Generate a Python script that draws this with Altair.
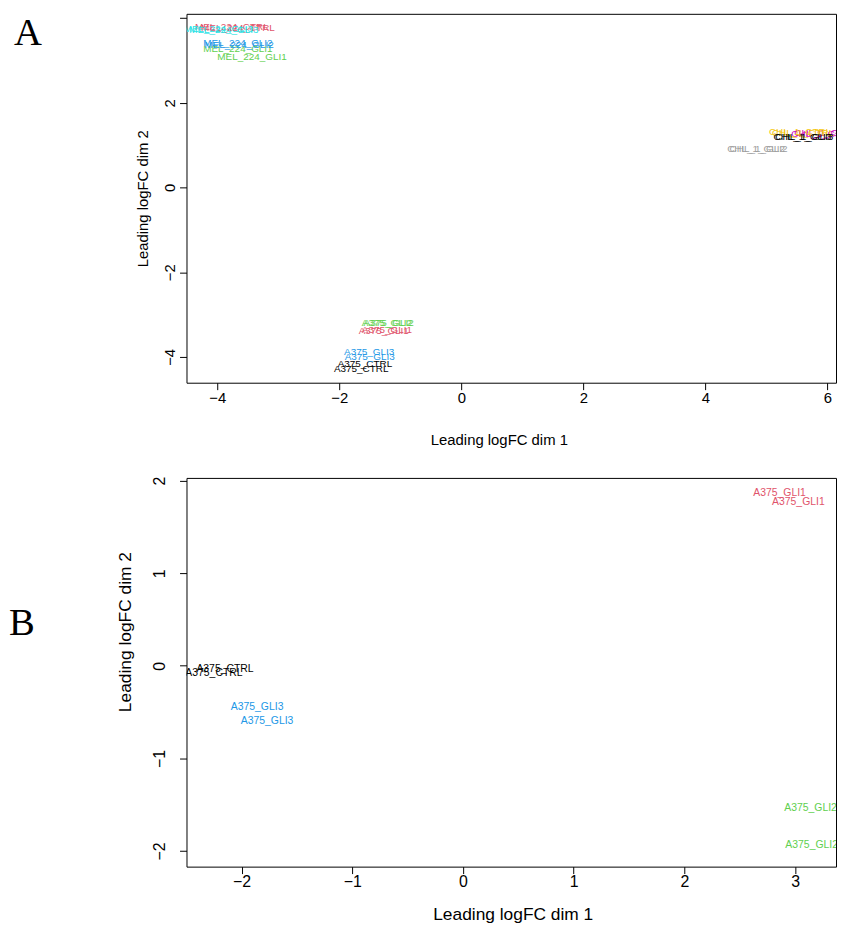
import altair as alt
import pandas as pd

# ---------------- Panel A data ----------------
a_labels = ["A375_CTRL", "A375_CTRL", "A375_GLI1", "A375_GLI1", "A375_GLI2", "A375_GLI2",
            "A375_GLI3", "A375_GLI3",
            "CHL_1_GLI1", "CHL_1_GLI1", "CHL_1_CTRL", "CHL_1_CTRL", "CHL_1_GLI2", "CHL_1_GLI2",
            "CHL_1_GLI3", "CHL_1_GLI3",
            "MEL_224_CTRL", "MEL_224_CTRL", "MEL_224_GLI1", "MEL_224_GLI1",
            "MEL_224_GLI2", "MEL_224_GLI2", "MEL_224_GLI3", "MEL_224_GLI3"]
a_x = [-1.58, -1.64, -1.27, -1.22, -1.19, -1.22, -1.51, -1.50,
       5.88, 5.93, 5.55, 5.60, 4.83, 4.87, 5.59, 5.62,
       -3.76, -3.66, -3.66, -3.43, -3.66, -3.64, -3.98, -3.89]
a_y = [-4.17, -4.29, -3.40, -3.36, -3.19, -3.21, -3.89, -4.00,
       1.27, 1.29, 1.30, 1.28, 0.90, 0.90, 1.19, 1.20,
       3.80, 3.76, 3.28, 3.09, 3.42, 3.36, 3.74, 3.72]
a_colors = ["#000000", "#000000", "#DF536B", "#DF536B", "#61D04F", "#61D04F", "#2297E6", "#2297E6",
            "#CD0BBC", "#CD0BBC", "#F5C710", "#F5C710", "#9E9E9E", "#9E9E9E", "#000000", "#000000",
            "#DF536B", "#DF536B", "#61D04F", "#61D04F", "#2297E6", "#2297E6", "#28E2E5", "#28E2E5"]

# ---------------- Panel B data ----------------
b_labels = ["A375_CTRL", "A375_CTRL", "A375_GLI1", "A375_GLI1", "A375_GLI2", "A375_GLI2",
            "A375_GLI3", "A375_GLI3"]
b_x = [-2.25, -2.15, 2.86, 3.03, 3.14, 3.15, -1.86, -1.77]
b_y = [-0.08, -0.04, 1.87, 1.77, -1.54, -1.94, -0.45, -0.60]
b_colors = ["#000000", "#000000", "#DF536B", "#DF536B", "#61D04F", "#61D04F", "#2297E6", "#2297E6"]

a_xticks = [-4, -2, 0, 2, 4, 6]
a_yticks = [-4, -2, 0, 2, 4]
b_xticks = [-2, -1, 0, 1, 2, 3]
b_yticks = [-2, -1, 0, 1, 2]

FONT = "Liberation Sans"


def panel(labels, xs, ys, cols, xdom, ydom, w, h, xt, yt, fsize, letter, lx, ly,
          xtitle_x, xtitle_y, ytitle_x, ytitle_y, xlabpad, ylabpad, labsize, titlesize):
    df = pd.DataFrame({"label": labels, "x": xs, "y": ys, "col": cols,
                       "order": list(range(len(labels)))})
    xaxis = alt.Axis(values=xt, domain=False, grid=False, tickSize=7, tickColor="black",
                     labelColor="black", labelFont=FONT, labelFontSize=labsize,
                     labelPadding=xlabpad, labelFlush=False, labelOverlap=False,
                     title="Leading logFC dim 1", titleFont=FONT, titleFontSize=titlesize,
                     titleFontWeight="normal", titleColor="black", titleX=xtitle_x,
                     titleY=xtitle_y, titleAlign="center", titleBaseline="middle")
    yaxis = alt.Axis(values=yt, domain=False, grid=False, tickSize=7, tickColor="black",
                     labelColor="black", labelFont=FONT, labelFontSize=labsize,
                     labelPadding=ylabpad, labelAngle=270, labelAlign="center",
                     labelBaseline="bottom", labelFlush=False, labelOverlap=False,
                     labelExpr="datum.value == 4 ? '' : datum.label",
                     title="Leading logFC dim 2", titleFont=FONT, titleFontSize=titlesize,
                     titleFontWeight="normal", titleColor="black", titleAngle=270,
                     titleX=ytitle_x, titleY=ytitle_y, titleAlign="center",
                     titleBaseline="middle")
    pts = alt.Chart(df).mark_text(font=FONT, fontSize=fsize, clip=True,
                                  align="center", baseline="middle").encode(
        x=alt.X("x:Q", scale=alt.Scale(domain=xdom, nice=False, zero=False), axis=xaxis),
        y=alt.Y("y:Q", scale=alt.Scale(domain=ydom, nice=False, zero=False), axis=yaxis),
        text="label:N",
        color=alt.Color("col:N", scale=None),
        order="order:Q",
    )
    let = alt.Chart(pd.DataFrame({"t": [letter]})).mark_text(
        font="Liberation Serif", fontSize=39, align="center", baseline="alphabetic",
        color="black").encode(text="t:N", x=alt.value(lx), y=alt.value(ly))
    return alt.layer(pts, let).properties(width=w, height=h)


chartA = panel(a_labels, a_x, a_y, a_colors, [-4.503, 6.14], [-4.61, 4.10], 655, 372,
               a_xticks, a_yticks, 10, "A", -160, 31,
               315, 57, -44, 186, 1, 2, 15, 15)
chartB = panel(b_labels, b_x, b_y, b_colors, [-2.498, 3.37], [-2.17, 2.03], 655, 392,
               b_xticks, b_yticks, 10.5, "B", -166, 158,
               329, 48, -61, 155, 0, 12, 16, 17.5)

chart = alt.vconcat(chartA, chartB, spacing=96, bounds="flush").properties(
    padding={"left": 0, "top": 1, "right": 0, "bottom": 0}, background="white"
).configure_view(stroke="black", strokeWidth=1)

chart.save("out.html", embed_options={"renderer": "svg", "actions": False})
